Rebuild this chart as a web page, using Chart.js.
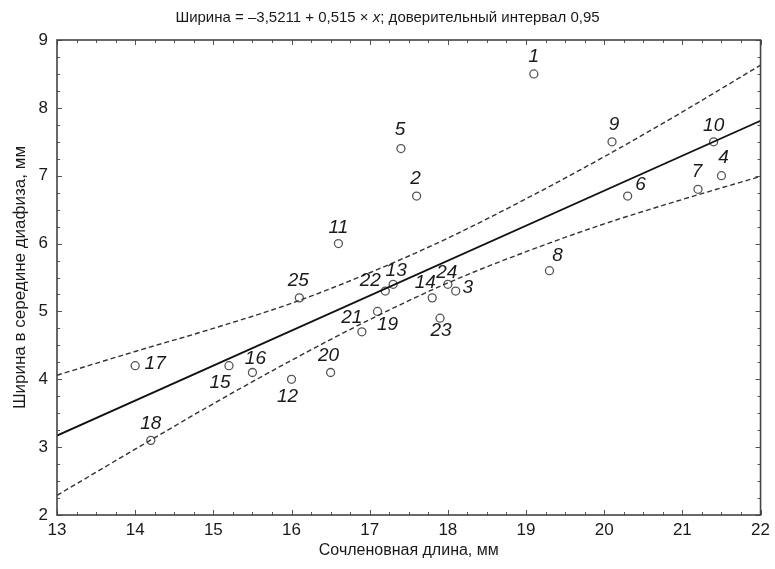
<!DOCTYPE html>
<html>
<head>
<meta charset="utf-8">
<script src="https://cdn.jsdelivr.net/npm/chart.js@4.4.1/dist/chart.umd.min.js"></script>
<style>
  html, body { margin: 0; padding: 0; background: #fff; }
  #wrap { width: 775px; height: 569px; }
</style>
</head>
<body>
<div id="wrap"><canvas id="chart" width="775" height="569"></canvas></div>
<script>
// Specimen numbers and measurements (mm)
const specimenIds = [1, 2, 3, 4, 5, 6, 7, 8, 9, 10, 11, 12, 13, 14, 15, 16, 17, 18, 19, 20, 21, 22, 23, 24, 25];
const jointLength = [19.1, 17.6, 18.1, 21.5, 17.4, 20.3, 21.2, 19.3, 20.1, 21.4, 16.6, 16.0, 17.3, 17.8, 15.2, 15.5, 14.0, 14.2, 17.1, 16.5, 16.9, 17.2, 17.9, 18.0, 16.1];
const midWidth = [8.5, 6.7, 5.3, 7.0, 7.4, 6.7, 6.8, 5.6, 7.5, 7.5, 6.0, 4.0, 5.4, 5.2, 4.2, 4.1, 4.2, 3.1, 5.0, 4.1, 4.7, 5.3, 4.9, 5.4, 5.2];

// Fitted line and 0.95 band
const fitX = [13, 22];
const fitY = [3.17, 7.81];
const bandX = [13, 14, 15, 16, 17, 18, 19, 20, 21, 22];
const bandUpper = [4.06, 4.41, 4.75, 5.12, 5.57, 6.08, 6.66, 7.28, 7.94, 8.63];
const bandLower = [2.29, 2.97, 3.64, 4.28, 4.88, 5.42, 5.88, 6.29, 6.65, 6.99];

// Axis ticks
const xTicks = [13, 14, 15, 16, 17, 18, 19, 20, 21, 22];
const yTicks = [2, 3, 4, 5, 6, 7, 8, 9];

// Title pieces: the x is set in italics
const titleParts = [
  { text: 'Ширина = –3,5211 + 0,515 × ', italic: false },
  { text: 'x', italic: true },
  { text: '; доверительный интервал 0,95', italic: false },
];

// Where each number sits relative to its circle (px, label centre)
const labelOffsets = {
  1: [0, -17], 2: [-1, -17], 3: [12, -3], 4: [2, -18], 5: [-1, -19],
  6: [13, -11], 7: [-1, -18], 8: [8, -15], 9: [2, -17], 10: [0, -16],
  11: [0, -16], 12: [-4, 17], 13: [3, -14], 14: [-7, -15], 15: [-9, 17],
  16: [3, -14], 17: [20, -2], 18: [0, -17], 19: [10, 13], 20: [-2, -17],
  21: [-10, -14], 22: [-15, -10], 23: [1, 13], 24: [-1, -12], 25: [-1, -17],
};

const toXY = (xs, ys) => xs.map((x, i) => ({ x, y: ys[i] }));

const FONT = "'Liberation Sans', Arial, sans-serif";
const INK = '#1a1a1a';

// Box round the plot with inward ticks on all four sides
const framePlugin = {
  id: 'frame',
  afterDatasetsDraw(chart) {
    const { ctx, chartArea: a, scales: { x, y } } = chart;
    ctx.save();
    ctx.strokeStyle = '#555';
    ctx.lineWidth = 1;
    ctx.beginPath();
    for (let v = x.min; v <= x.max + 1e-6; v += 0.25) {
      const px = Math.round(x.getPixelForValue(v)) + 0.5;
      const len = Math.abs(v - Math.round(v)) < 1e-6 ? 5 : 3;
      ctx.moveTo(px, a.bottom); ctx.lineTo(px, a.bottom - len);
      ctx.moveTo(px, a.top); ctx.lineTo(px, a.top + len);
    }
    for (let v = y.min; v <= y.max + 1e-6; v += 0.25) {
      const py = Math.round(y.getPixelForValue(v)) + 0.5;
      const len = Math.abs(v - Math.round(v)) < 1e-6 ? 5 : 3;
      ctx.moveTo(a.left, py); ctx.lineTo(a.left + len, py);
      ctx.moveTo(a.right, py); ctx.lineTo(a.right - len, py);
    }
    ctx.stroke();
    ctx.lineWidth = 1.6;
    ctx.strokeStyle = '#444';
    ctx.strokeRect(a.left, a.top, a.right - a.left, a.bottom - a.top);
    ctx.restore();
  },
};

// Chart title with an italic x, centred on the canvas
const titlePlugin = {
  id: 'mixedTitle',
  afterDraw(chart) {
    const { ctx, width } = chart;
    ctx.save();
    ctx.fillStyle = INK;
    ctx.textBaseline = 'middle';
    ctx.textAlign = 'left';
    const fontFor = (p) => `${p.italic ? 'italic ' : ''}15px ${FONT}`;
    const widths = titleParts.map((p) => { ctx.font = fontFor(p); return ctx.measureText(p.text).width; });
    const total = widths.reduce((s, w) => s + w, 0);
    let cx = width / 2 - total / 2;
    titleParts.forEach((p, i) => {
      ctx.font = fontFor(p);
      ctx.fillText(p.text, cx, 18);
      cx += widths[i];
    });
    ctx.restore();
  },
};

// Italic specimen numbers next to the circles
const idLabelPlugin = {
  id: 'idLabels',
  afterDatasetsDraw(chart) {
    const { ctx } = chart;
    const meta = chart.getDatasetMeta(3);
    ctx.save();
    ctx.font = `italic 19px ${FONT}`;
    ctx.fillStyle = INK;
    ctx.textAlign = 'center';
    ctx.textBaseline = 'middle';
    meta.data.forEach((pt, i) => {
      const id = specimenIds[i];
      const [dx, dy] = labelOffsets[id] || [0, -17];
      ctx.fillText(String(id), pt.x + dx, pt.y + dy);
    });
    ctx.restore();
  },
};

const bandStyle = {
  type: 'scatter',
  showLine: true,
  borderColor: '#333',
  borderWidth: 1.4,
  borderDash: [5, 3],
  pointRadius: 0,
  cubicInterpolationMode: 'monotone',
  fill: false,
};

new Chart(document.getElementById('chart'), {
  type: 'scatter',
  data: {
    datasets: [
      { ...bandStyle, label: 'Верхняя граница', data: toXY(bandX, bandUpper) },
      { ...bandStyle, label: 'Нижняя граница', data: toXY(bandX, bandLower) },
      {
        type: 'scatter',
        label: 'Регрессия',
        data: toXY(fitX, fitY),
        showLine: true,
        borderColor: '#111',
        borderWidth: 1.8,
        pointRadius: 0,
      },
      {
        label: 'Образцы',
        data: toXY(jointLength, midWidth),
        pointRadius: 4,
        pointBorderWidth: 1.3,
        pointBorderColor: '#555',
        pointBackgroundColor: 'rgba(255,255,255,0)',
      },
    ],
  },
  options: {
    responsive: false,
    animation: false,
    events: [],
    layout: { padding: { left: 0, right: 3, top: 40, bottom: 0 } },
    scales: {
      x: {
        type: 'linear',
        min: 13,
        max: 22,
        afterBuildTicks: (s) => { s.ticks = xTicks.map((v) => ({ value: v })); },
        afterFit: (s) => { s.height = 54; },
        grid: { display: false, drawTicks: false },
        border: { display: false },
        ticks: { color: INK, font: { family: FONT, size: 17 }, padding: 5 },
        title: {
          display: true,
          text: 'Сочленовная длина, мм',
          color: INK,
          font: { family: FONT, size: 16 },
          padding: { top: 0, bottom: 9 },
        },
      },
      y: {
        type: 'linear',
        min: 2,
        max: 9,
        afterBuildTicks: (s) => { s.ticks = yTicks.map((v) => ({ value: v })); },
        afterFit: (s) => { s.width = 57; },
        grid: { display: false, drawTicks: false },
        border: { display: false },
        ticks: { color: INK, font: { family: FONT, size: 17 }, padding: 9 },
        title: {
          display: true,
          text: 'Ширина в середине диафиза, мм',
          color: INK,
          font: { family: FONT, size: 17 },
          padding: { top: 10, bottom: 0 },
        },
      },
    },
    plugins: {
      legend: { display: false },
      tooltip: { enabled: false },
      title: { display: false },
    },
  },
  plugins: [framePlugin, idLabelPlugin, titlePlugin],
});
</script>
</body>
</html>
